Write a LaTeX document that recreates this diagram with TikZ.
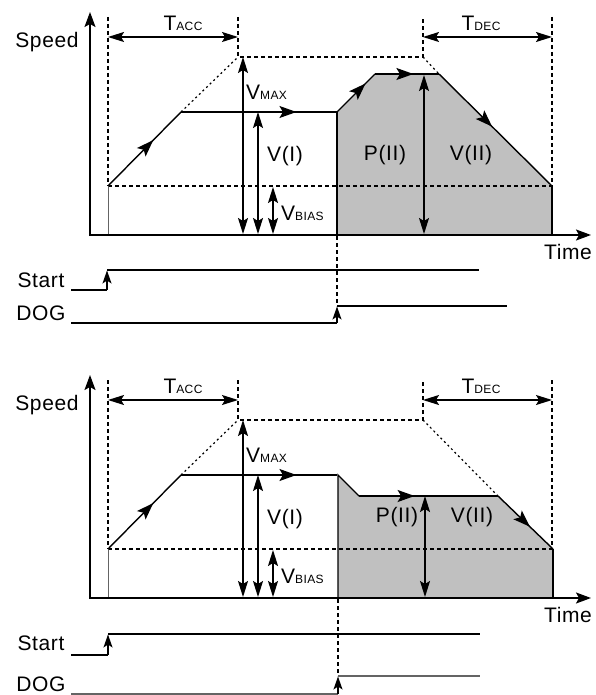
\documentclass[tikz,border=0pt]{standalone}
\usepackage{fontspec}
\setmainfont{Liberation Sans}[LetterSpace=3]
\usetikzlibrary{arrows.meta,decorations.markings}
\definecolor{fillg}{RGB}{192,192,192}
\definecolor{sigray}{RGB}{100,100,100}
\tikzset{
 axisline/.style={line width=1.7pt,-{Stealth[length=15pt,width=11pt,inset=3pt]}},
 curve/.style={line width=1.4pt},
 dashln/.style={line width=1.2pt, dash pattern=on 4pt off 3pt},
 dotln/.style={line width=1.2pt, dash pattern=on 2pt off 3pt},
 dblarrow/.style={line width=1.4pt,{Stealth[length=16pt,width=10pt,inset=3pt]}-{Stealth[length=16pt,width=10pt,inset=3pt]}},
 midarrow/.style={postaction={decorate},decoration={markings,mark=at position #1 with {\arrow{Stealth[length=17pt,width=12pt,inset=3.5pt]}}}},
 lbl/.style={inner sep=0pt,font=\fontsize{21}{21}\selectfont},
 sig/.style={line width=1.2pt},
 uparrow/.style={line width=1.2pt,-{Stealth[length=13pt,width=9pt,inset=3pt]}},
}
\newcommand\sbs[1]{{\fontsize{12}{12}\selectfont #1}}
\newcommand\commonparts[1]{%
 \draw[dashln] (108,17) -- (108,186);
 \draw[dashln] (238,17) -- (238,57) -- (423,57) -- (423,17);
 \draw[dashln] (552,17) -- (552,186);
 \draw[dashln] (108,186) -- (552,186);
 \draw[dblarrow] (108,37) -- (238,37);
 \draw[dblarrow] (423,37) -- (552,37);
 \node[lbl] (tacc#1) at (183,23) {T\sbs{ACC}};
 \node[lbl] (tdec#1) at (481,23) {T\sbs{DEC}};
 \draw[line width=0.9pt,sigray] (108,235) -- (108,186);
 \draw[curve,midarrow=0.62] (108,186) -- (181,112);
 \draw[dotln] (181,112) -- (238,57);
 \draw[curve,midarrow=0.74] (181,112) -- (337,112);
 \draw[dblarrow] (243,57) -- (243,234);
 \draw[dblarrow] (258,112) -- (258,234);
 \draw[dblarrow] (273,187) -- (273,234);
 \node[lbl,anchor=west] (vmax#1) at (246,92) {V\sbs{MAX}};
 \node[lbl,anchor=west] (vi#1) at (267,156) {V(I)};
 \node[lbl,anchor=west] (vbias#1) at (281,213) {V\sbs{BIAS}};
 \node[lbl] (speed#1) at (47,42) {Speed};
 \node[lbl] (time#1) at (568,252) {Time};
 \draw[axisline] (90,236) -- (90,12);
 \draw[axisline] (89.2,235) -- (591,235);
}
\begin{document}
\begin{tikzpicture}[x=1pt,y=-1pt]
\useasboundingbox (0,0) rectangle (595,695);
% ---------------- top diagram
\begin{scope}
 \fill[fillg] (337,235) -- (337,112) -- (375,74) -- (439,74) -- (552,186) -- (552,235) -- cycle;
 \draw[curve] (337,235) -- (337,112);
 \draw[curve,midarrow=0.75] (337,112) -- (375,74);
 \draw[curve,midarrow=0.6] (375,74) -- (439,74);
 \draw[curve,midarrow=0.47] (439,74) -- (552,186);
 \draw[curve] (552,186) -- (552,235);
 \draw[dotln] (423,57) -- (439,74);
 \draw[dblarrow] (424,75) -- (424,234);
 \node[lbl] (pii1) at (385,155) {P(II)};
 \node[lbl] (vii1) at (471,155) {V(II)};
 \commonparts{1}
\end{scope}
% timing top
\node[lbl] (start1) at (41,280) {Start};
\node[lbl] (dog1) at (41,313) {DOG};
\draw[sig] (71,290) -- (107,290);
\draw[uparrow] (107,290) -- (107,270.5);
\draw[sig] (107,270) -- (479,270);
\draw[dashln] (337,236) -- (337,306);
\draw[sig] (71,323) -- (337,323);
\draw[uparrow] (337,323) -- (337,306.5);
\draw[sig] (337,306) -- (507,306);
% ---------------- bottom diagram
\begin{scope}[shift={(0,363)}]
 \fill[fillg] (338,235) -- (338,112) -- (359,133) -- (498,133) -- (553,186) -- (553,235) -- cycle;
 \draw[curve] (338,235) -- (338,112) -- (359,133);
 \draw[curve,midarrow=0.4] (359,133) -- (498,133);
 \draw[curve,midarrow=0.58] (498,133) -- (553,186);
 \draw[curve] (553,186) -- (553,235);
 \draw[dotln] (423,57) -- (498,133);
 \draw[dblarrow] (425,133) -- (425,234);
 \node[lbl] (pii2) at (397,154) {P(II)};
 \node[lbl] (vii2) at (472,154) {V(II)};
 \commonparts{2}
\end{scope}
% timing bottom
\node[lbl] (start2) at (41,643) {Start};
\node[lbl] (dog2) at (41,684) {DOG};
\draw[sig] (71,655) -- (108,655);
\draw[uparrow] (108,655) -- (108,634.5);
\draw[sig] (108,634) -- (480,634);
\draw[dashln] (338,599) -- (338,676);
\draw[sig,sigray] (71,694) -- (338,694);
\draw[uparrow] (338,694) -- (338,676.5);
\draw[sig,sigray] (338,676) -- (480,676);
\end{tikzpicture}
\end{document}
